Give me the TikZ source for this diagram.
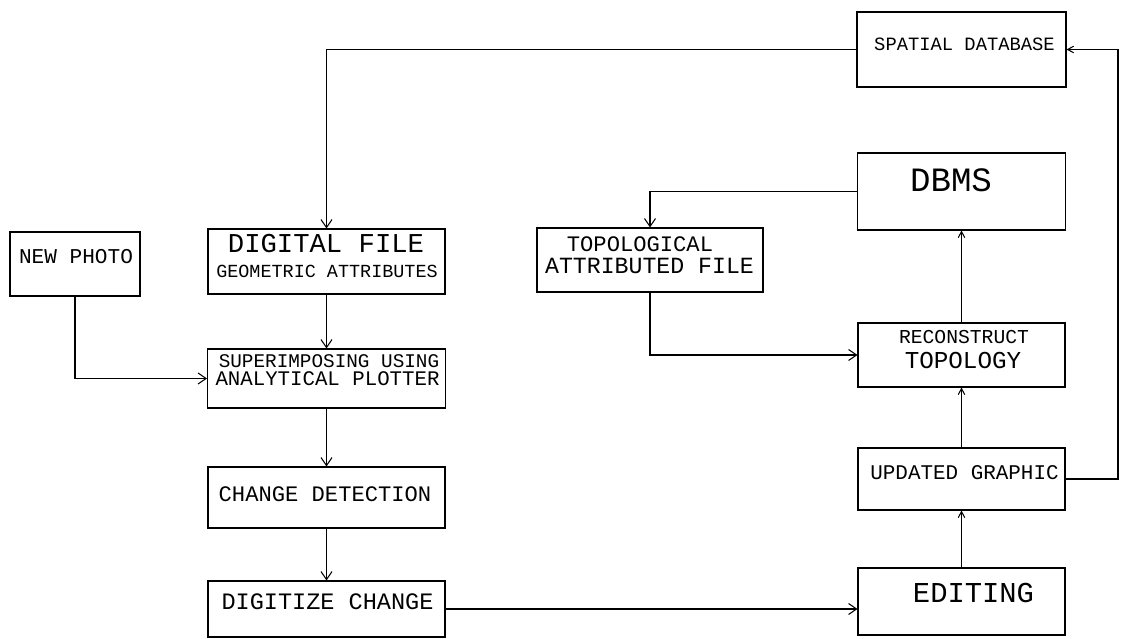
\documentclass[tikz,border=0pt]{standalone}
\usepackage{fontspec}
\setmainfont{Liberation Mono}
\usetikzlibrary{arrows.meta}
\newcommand{\plotsize}[1]{\fontsize{#1pt}{#1pt}\selectfont}

\begin{document}
\begin{tikzpicture}[x=0.2mm, y=-0.2mm, line width=0.6pt,
    box/.style 2 args={draw, minimum width=#1*0.2mm, minimum height=#2*0.2mm, inner sep=0pt},
    txt/.style={inner sep=0pt, font=\plotsize{#1}},
    arr/.style={-{Straight Barb[length=1.6mm, width=2.2mm]}},
    arrs/.style={-{Straight Barb[length=1.2mm, width=1.3mm]}}]
        \useasboundingbox (0,0) rectangle (1121,639);
        % left column
        \node[box={130}{64}] (photo) at (75,264) {};
        \node[box={237}{65}] (digital) at (326.5,261.5) {};
        \node[box={238}{59}] (super) at (326.5,378.5) {};
        \node[box={237}{61}] (detect) at (326.5,497.5) {};
        \node[box={237}{56}] (digitize) at (326.5,609) {};
        % middle
        \node[box={226}{64}] (topo) at (650,260) {};
        % right column
        \node[box={209}{75}] (spatial) at (961.5,49.5) {};
        \node[box={208}{77}] (dbms) at (961.5,191.5) {};
        \node[box={207}{64}] (recon) at (961.5,355) {};
        \node[box={207}{62}] (updated) at (961.5,479) {};
        \node[box={207}{67}] (editing) at (961.5,601.5) {};
        % texts
        \node[txt=12] (photo-t) at (76,257) {NEW PHOTO};
        \node[txt=15.5] (digital-a) at (326,244) {DIGITAL FILE};
        \node[txt=10.5] (digital-b) at (327,271) {GEOMETRIC ATTRIBUTES};
        \node[txt=11] (super-a) at (329,361) {SUPERIMPOSING USING};
        \node[txt=11.8] (super-b) at (327.5,379) {ANALYTICAL PLOTTER};
        \node[txt=12.6] (detect-t) at (325,494) {CHANGE DETECTION};
        \node[txt=13.4] (digitize-t) at (327.5,602) {DIGITIZE CHANGE};
        \node[txt=12.6] (topo-a) at (640,244) {TOPOLOGICAL};
        \node[txt=13.2] (topo-b) at (649.5,266) {ATTRIBUTED FILE};
        \node[txt=10.7] (spatial-t) at (964.5,44) {SPATIAL DATABASE};
        \node[txt=19.4] (dbms-t) at (951,180) {DBMS};
        \node[txt=11.2] (recon-a) at (964,337) {RECONSTRUCT};
        \node[txt=13.8] (recon-b) at (963,361) {TOPOLOGY};
        \node[txt=11.9] (updated-t) at (964.5,473) {UPDATED GRAPHIC};
        \node[txt=16.4] (editing-t) at (973.5,593) {EDITING};
        % connectors
        \coordinate (rail) at (1118,49.5);
        \draw[arr] (spatial.west) -| (digital.north);
        \draw[arr] (dbms.west) -| (topo.north);
        \draw[arr] (topo.south) |- (recon.west);
        \draw[arrs] (recon.north) -- (dbms.south);
        \draw[arrs] (updated.north) -- (recon.south);
        \draw[arrs] (editing.north) -- (updated.south);
        \draw[arrs] (updated.east) -| (rail) -- (spatial.east);
        \draw[arr] (photo.south) |- (super.west);
        \draw[arr] (digital.south) -- (super.north);
        \draw[arr] (super.south) -- (detect.north);
        \draw[arr] (detect.south) -- (digitize.north);
        \draw[arr] (digitize.east) -- (digitize.east -| editing.west);
\end{tikzpicture}
\end{document}
